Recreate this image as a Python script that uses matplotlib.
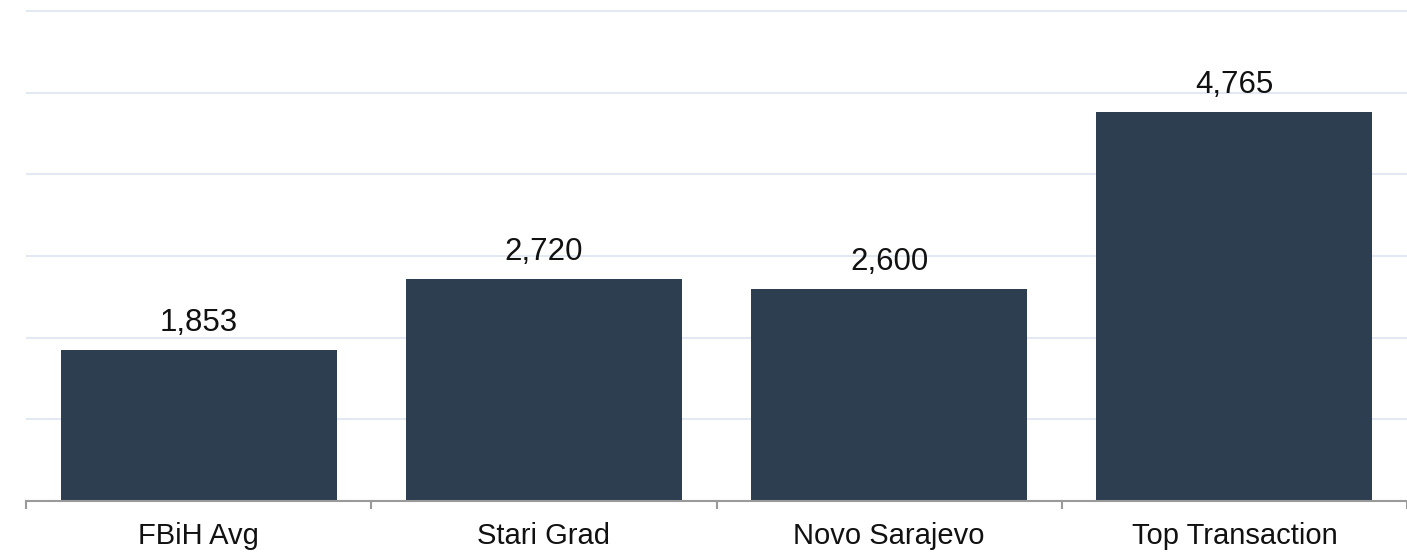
import matplotlib.pyplot as plt
from matplotlib.ticker import FixedLocator, MultipleLocator

plt.rcParams['font.family'] = ['Liberation Sans', 'DejaVu Sans']

# price per m2, KM
categories = ["FBiH Avg", "Stari Grad", "Novo Sarajevo", "Top Transaction"]
values = [1853, 2720, 2600, 4765]

BAR_COLOR = "#2c3e50"
GRID_COLOR = "#e4e8f3"
AXIS_COLOR = "#9a9a9a"

fig = plt.figure(figsize=(14.07, 5.52), dpi=100)
ax = fig.add_axes([26 / 1407, 51 / 552, 1381 / 1407, 496 / 552])

x = list(range(len(categories)))
ax.bar(x, values, width=0.8, color=BAR_COLOR, zorder=3)

for xi, v in zip(x, values):
    ax.annotate(f"{v:,}", (xi, v), xytext=(0, 13.5), textcoords="offset points",
                ha="center", va="baseline", fontsize=22.5, color="#111111")

ax.set_xlim(-0.5, len(categories) - 0.5)
ax.set_ylim(0, 6073)

ax.yaxis.set_major_locator(MultipleLocator(1000))
ax.grid(axis="y", color=GRID_COLOR, linewidth=1.5, zorder=0)
ax.tick_params(axis="y", left=False, labelleft=False)

ax.set_xticks(x)
ax.set_xticklabels(categories, fontsize=21, color="#111111")
ax.tick_params(axis="x", which="major", length=0, pad=15)
ax.xaxis.set_minor_locator(FixedLocator([i - 0.5 for i in range(len(categories) + 1)]))
ax.tick_params(axis="x", which="minor", length=6, width=1.5, color=AXIS_COLOR)

for side in ["top", "right", "left"]:
    ax.spines[side].set_visible(False)
ax.spines["bottom"].set_color(AXIS_COLOR)
ax.spines["bottom"].set_linewidth(1.5)
ax.spines["bottom"].set_zorder(4)

fig.savefig("out.png", dpi=100, facecolor="white")
